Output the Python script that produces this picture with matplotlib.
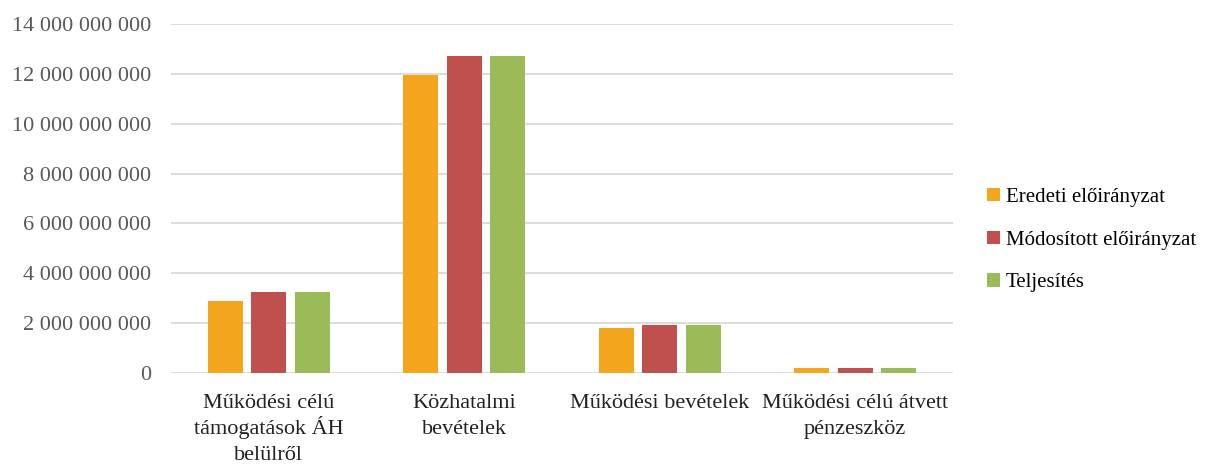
import numpy as np
import matplotlib.pyplot as plt
from matplotlib.ticker import FuncFormatter
from matplotlib.transforms import blended_transform_factory, offset_copy

# categories and series
categories = ['Működési célú\ntámogatások ÁH\nbelülről', 'Közhatalmi\nbevételek',
              'Működési bevételek', 'Működési célú átvett\npénzeszköz']
series_names = ['Eredeti előirányzat', 'Módosított előirányzat', 'Teljesítés']
eredeti = [2.88e9, 11.95e9, 1.80e9, 0.20e9]
modositott = [3.25e9, 12.72e9, 1.92e9, 0.21e9]
teljesites = [3.25e9, 12.72e9, 1.92e9, 0.21e9]
colors = ['#F2A51D', '#C0504D', '#9BBB59']

plt.rcParams['font.family'] = ['Liberation Serif', 'DejaVu Serif']

fig = plt.figure(figsize=(12.17, 4.65), dpi=100)
ax = fig.add_axes([171 / 1217, 1 - 373 / 465, (953 - 171) / 1217, (373 - 24) / 465])

x = np.arange(len(categories))
w = 0.18
step = 0.222
for i, (vals, name) in enumerate(zip([eredeti, modositott, teljesites], series_names)):
    ax.bar(x + (i - 1) * step, vals, w, color=colors[i], label=name, zorder=3)

ax.set_xlim(-0.5, len(categories) - 0.5)
ax.set_ylim(0, 14e9)
ax.set_yticks(np.arange(0, 14e9 + 1, 2e9))
ax.yaxis.set_major_formatter(FuncFormatter(lambda v, p: f'{int(v):,}'.replace(',', ' ')))
ax.grid(axis='y', color='#d9d9d9', linewidth=1.3, zorder=0)
for s in ax.spines.values():
    s.set_visible(False)
ax.tick_params(axis='y', length=0, labelsize=16, labelcolor='#595959', pad=14)
ax.set_xticks(x)
ax.set_xticklabels([])
ax.tick_params(axis='x', length=0)

# category labels, one line at a time so the rows are evenly spaced
trans = blended_transform_factory(ax.transData, ax.transAxes)
for xi, label in zip(x, categories):
    for j, line in enumerate(label.split('\n')):
        t = offset_copy(trans, fig=fig, x=0, y=-25 - j * 19, units='points')
        ax.text(xi, 0, line, transform=t, ha='center', va='baseline',
                fontsize=16, color='#222222')

leg = fig.legend(loc='center left', bbox_to_anchor=(987 / 1217, 1 - 240 / 465), frameon=False,
                 fontsize=15, handlelength=0.6, handleheight=0.6, handletextpad=0.3,
                 labelspacing=1.15, borderaxespad=0, borderpad=0)

fig.savefig('out.png', dpi=100)
